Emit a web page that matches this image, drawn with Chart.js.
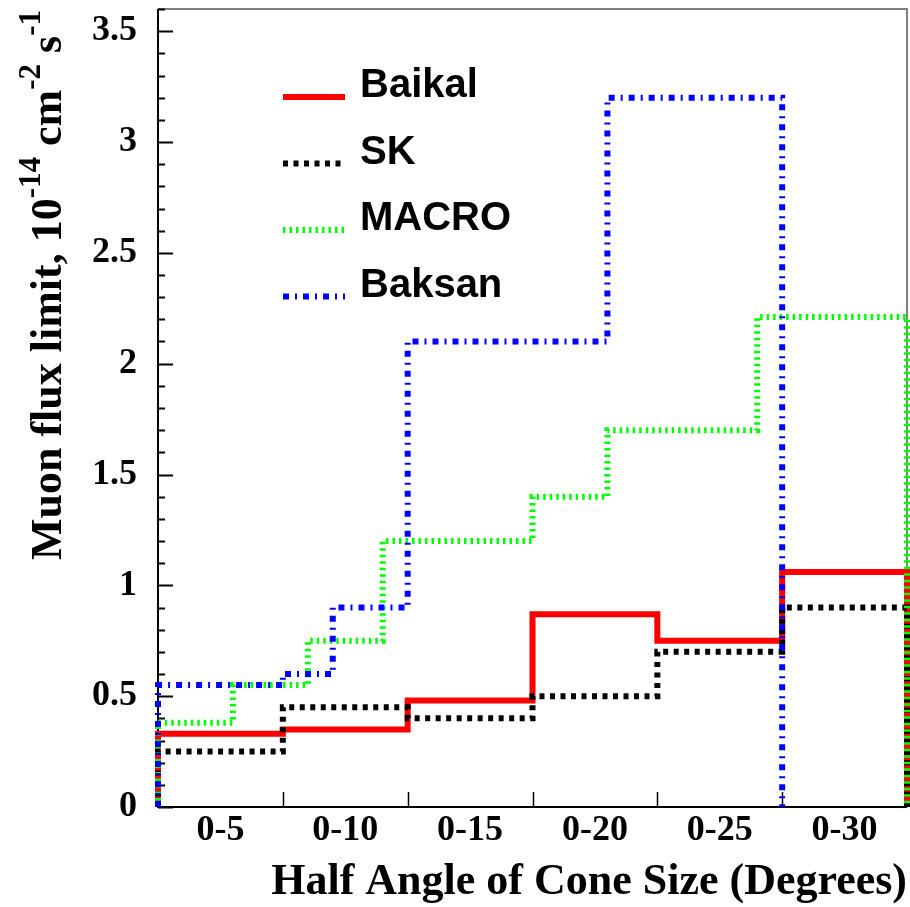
<!DOCTYPE html>
<html>
<head>
<meta charset="utf-8">
<script src="https://cdn.jsdelivr.net/npm/chart.js@4/dist/chart.umd.min.js"></script>
<style>
  html, body { margin: 0; padding: 0; background: #fff; }
  #wrap { width: 910px; height: 907px; position: relative; }
</style>
</head>
<body>
<div id="wrap"><canvas id="fluxChart"></canvas></div>
<script>
// cone size bins (degrees) and their labels
const coneLabels = ['0-5', '0-10', '0-15', '0-20', '0-25', '0-30'];
const coneEdges = [0, 5, 10, 15, 20, 25, 30];

// flux limits per experiment, 10^-14 cm^-2 s^-1
const baikalEdges = [0, 5, 10, 15, 20, 25, 30];
const baikalFlux = [0.33, 0.35, 0.48, 0.87, 0.75, 1.06];

const skEdges = [0, 5, 10, 15, 20, 25, 30];
const skFlux = [0.25, 0.45, 0.40, 0.50, 0.70, 0.90];

const macroEdges = [0, 3, 6, 9, 15, 18, 24, 30];
const macroFlux = [0.38, 0.55, 0.75, 1.20, 1.40, 1.70, 2.21];

const baksanEdges = [0, 5, 7, 10, 18, 25];
const baksanFlux = [0.55, 0.60, 0.90, 2.10, 3.20];

const yLabelTicks = [0, 0.5, 1, 1.5, 2, 2.5, 3, 3.5];

const serif = "'Liberation Serif', 'Times New Roman', serif";
const sans = "'Liberation Sans', Arial, sans-serif";

// histogram outline: up from zero, along each bin, back down to zero
function histOutline(edges, values) {
    const pts = [{ x: edges[0], y: 0 }];
    values.forEach((v, i) => {
        pts.push({ x: edges[i], y: v });
        pts.push({ x: edges[i + 1], y: v });
    });
    pts.push({ x: edges[edges.length - 1], y: 0 });
    return pts;
}

function series(label, edges, values, color, width, dash, order) {
    return {
        label: label,
        data: histOutline(edges, values),
        borderColor: color,
        borderWidth: width,
        borderDash: dash,
        borderCapStyle: 'butt',
        borderJoinStyle: 'miter',
        pointRadius: 0,
        fill: false,
        tension: 0,
        clip: false,
        order: order
    };
}

// frame and inward tick marks
const framePlugin = {
    id: 'frame',
    beforeDatasetsDraw(chart) {
        const { ctx, chartArea: a, scales } = chart;
        const y = scales.y, x = scales.x;
        ctx.save();
        ctx.lineCap = 'butt';
        ctx.strokeStyle = '#808080';
        ctx.lineWidth = 2;
        ctx.beginPath();
        ctx.moveTo(a.left, a.top);
        ctx.lineTo(a.right, a.top);
        ctx.lineTo(a.right, a.bottom);
        ctx.stroke();

        ctx.strokeStyle = '#000';
        ctx.beginPath();
        ctx.moveTo(a.left, a.top);
        ctx.lineTo(a.left, a.bottom);
        ctx.lineTo(a.right, a.bottom);
        ctx.stroke();

        // y ticks every 0.1, longer on the labelled ones
        ctx.lineWidth = 2;
        for (let k = 0; k <= Math.round(y.max * 10); k++) {
            const v = k / 10;
            const py = Math.round(y.getPixelForValue(v)) + 0.5;
            const len = yLabelTicks.some(t => Math.abs(t - v) < 1e-6) ? 15 : 7;
            ctx.beginPath();
            ctx.moveTo(a.left, py);
            ctx.lineTo(a.left + len, py);
            ctx.stroke();
        }
        // x ticks at the bin edges
        ctx.lineWidth = 1.5;
        coneEdges.slice(1, -1).forEach(e => {
            const px = Math.round(x.getPixelForValue(e)) + 0.5;
            ctx.beginPath();
            ctx.moveTo(px, a.bottom);
            ctx.lineTo(px, a.bottom - 15);
            ctx.stroke();
        });
        ctx.restore();
    }
};

// rotated y title with superscript exponents
const yTitlePlugin = {
    id: 'yTitle',
    afterDraw(chart) {
        const { ctx } = chart;
        const parts = [
            ['Muon flux limit, 10', false],
            ['-14', true],
            [' cm', false],
            ['-2', true],
            [' s', false],
            ['-1', true]
        ];
        const mainFont = 'bold 44px ' + serif;
        const supFont = 'bold 31px ' + serif;
        ctx.save();
        let total = 0;
        parts.forEach(p => {
            ctx.font = p[1] ? supFont : mainFont;
            total += ctx.measureText(p[0]).width;
        });
        const endY = 10, baseX = 61;
        ctx.translate(baseX, endY + total);
        ctx.rotate(-Math.PI / 2);
        ctx.fillStyle = '#000';
        ctx.textBaseline = 'alphabetic';
        ctx.textAlign = 'left';
        let pos = 0;
        parts.forEach(p => {
            ctx.font = p[1] ? supFont : mainFont;
            ctx.fillText(p[0], pos, p[1] ? -21 : 0);
            pos += ctx.measureText(p[0]).width;
        });
        ctx.restore();
    }
};

// legend: line sample sitting on the text baseline
const legendPlugin = {
    id: 'stepLegend',
    afterDraw(chart) {
        const { ctx } = chart;
        ctx.save();
        ctx.font = 'bold 40px ' + sans;
        ctx.fillStyle = '#000';
        ctx.textBaseline = 'alphabetic';
        chart.data.datasets.forEach((ds, i) => {
            const base = 97 + i * 66.5;
            ctx.strokeStyle = ds.borderColor;
            ctx.lineWidth = ds.borderWidth;
            ctx.setLineDash(ds.borderDash);
            ctx.lineCap = 'butt';
            ctx.beginPath();
            ctx.moveTo(283, base);
            ctx.lineTo(345, base);
            ctx.stroke();
            ctx.setLineDash([]);
            ctx.fillText(ds.label, 360, base);
        });
        ctx.restore();
    }
};

new Chart(document.getElementById('fluxChart'), {
    type: 'line',
    data: {
        datasets: [
            series('Baikal', baikalEdges, baikalFlux, '#ff0000', 6, [], 4),
            series('SK', skEdges, skFlux, '#000000', 6, [5, 5.5], 3),
            series('MACRO', macroEdges, macroFlux, '#00ff00', 6, [2.5, 4], 2),
            series('Baksan', baksanEdges, baksanFlux, '#0000ff', 6, [6, 6, 2, 6], 1)
        ]
    },
    options: {
        responsive: true,
        maintainAspectRatio: false,
        animation: false,
        events: [],
        layout: { padding: { left: 0, right: 3, top: 9, bottom: 0 } },
        plugins: {
            legend: { display: false },
            tooltip: { enabled: false }
        },
        scales: {
            x: {
                type: 'linear',
                min: coneEdges[0],
                max: coneEdges[coneEdges.length - 1],
                grid: { display: false, drawTicks: false },
                border: { display: false },
                afterBuildTicks(scale) {
                    scale.ticks = coneLabels.map((l, i) => ({ value: (coneEdges[i] + coneEdges[i + 1]) / 2 }));
                },
                ticks: {
                    autoSkip: false,
                    maxRotation: 0,
                    padding: 2,
                    color: '#000',
                    font: { family: serif, size: 36, weight: 'bold' },
                    callback: (v, i) => coneLabels[i]
                },
                title: {
                    display: true,
                    text: 'Half Angle of Cone Size (Degrees)',
                    align: 'end',
                    color: '#000',
                    padding: { top: 0, bottom: -2 },
                    font: { family: serif, size: 44, weight: 'bold' }
                },
                afterFit(scale) {
                    scale.height = 100;
                    scale.paddingLeft = 0;
                    scale.paddingRight = 0;
                }
            },
            y: {
                type: 'linear',
                min: 0,
                max: 3.6,
                grid: { display: false, drawTicks: false },
                border: { display: false },
                afterBuildTicks(scale) {
                    scale.ticks = yLabelTicks.map(v => ({ value: v }));
                },
                ticks: {
                    padding: 21,
                    color: '#000',
                    font: { family: serif, size: 36, weight: 'bold' },
                    callback: v => String(v)
                },
                afterFit(scale) {
                    scale.width = 158;
                    scale.paddingTop = 0;
                    scale.paddingBottom = 0;
                }
            }
        }
    },
    plugins: [framePlugin, yTitlePlugin, legendPlugin]
});
</script>
</body>
</html>
